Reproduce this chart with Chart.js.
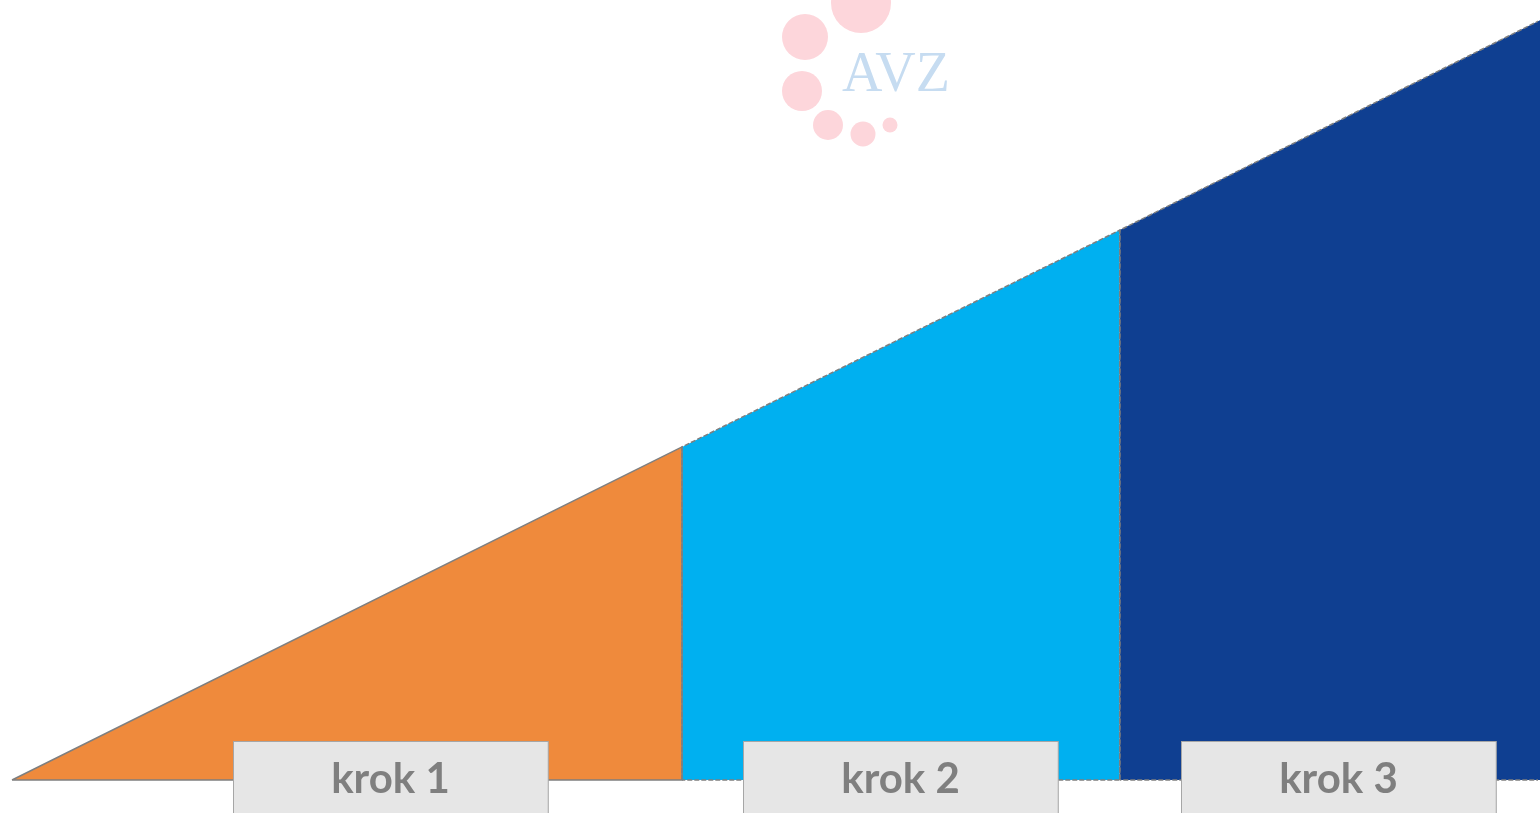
<!DOCTYPE html>
<html>
<head>
<meta charset="utf-8">
<script src="https://cdn.jsdelivr.net/npm/chart.js@4"></script>
<style>
  html, body { margin: 0; padding: 0; background: #fff; }
  #wrap { width: 1540px; height: 813px; position: relative; }
</style>
</head>
<body>
<div id="wrap"><canvas id="myChart"></canvas></div>
<script>
// step boundaries along the x axis (0..100) and the height of the slope there (0..100)
const stepEdges = [0, 43.85, 72.5, 100];
const stepHeights = [0, 42.7, 70.5, 97.4];
const stepLabels = ['krok 1', 'krok 2', 'krok 3'];
const labelCenters = [24.77, 58.15, 86.81];
const stepColors = ['#ef8a3c', '#00b0f0', '#0f3f91'];

function stepTop(i) {
    return [
        { x: stepEdges[i], y: stepHeights[i] },
        { x: stepEdges[i + 1], y: stepHeights[i + 1] }
    ];
}

function stepOutline(i) {
    return [
        { x: stepEdges[i], y: 0 },
        { x: stepEdges[i], y: stepHeights[i] },
        { x: stepEdges[i + 1], y: stepHeights[i + 1] },
        { x: stepEdges[i + 1], y: 0 },
        { x: stepEdges[i], y: 0 }
    ];
}

// filled areas first, outlines drawn on top of them
let fills = stepLabels.map((label, i) => ({
    label: label,
    data: stepTop(i),
    backgroundColor: stepColors[i],
    borderWidth: 0,
    fill: 'origin',
    tension: 0,
    pointRadius: 0,
    order: 10
}));

let outlines = stepLabels.map((label, i) => ({
    label: label + ' outline',
    data: stepOutline(i),
    borderColor: '#7f7f7f',
    borderWidth: 1.5,
    borderDash: i === 0 ? [] : [5, 2],
    fill: false,
    tension: 0,
    pointRadius: 0,
    clip: { left: 6, top: 6, right: -2, bottom: 6 },
    order: stepLabels.length - i
}));

// watermark logo in the top middle
const logoPlugin = {
    id: 'logo',
    beforeDraw(chart) {
        const c = chart.ctx;
        c.save();
        c.fillStyle = '#fdd6db';
        [[861, 3, 30], [805, 37, 23], [802, 91, 20], [828, 125, 15], [863, 134, 12.5], [890, 125, 7.5]]
            .forEach(p => { c.beginPath(); c.arc(p[0], p[1], p[2], 0, Math.PI * 2); c.fill(); });
        c.fillStyle = '#c6dcf1';
        c.font = '56px "Liberation Serif"';
        c.textBaseline = 'alphabetic';
        c.fillText('AVZ', 842, 91);
        c.restore();
    }
};

// grey step label boxes along the bottom
const stepBoxes = {
    id: 'stepBoxes',
    afterDatasetsDraw(chart) {
        const c = chart.ctx;
        const xs = chart.scales.x;
        const w = xs.getPixelForValue(20.6) - xs.getPixelForValue(0);
        c.save();
        stepLabels.forEach((label, i) => {
            const cx = xs.getPixelForValue(labelCenters[i]);
            const left = Math.round(cx - w / 2) + 0.5;
            c.fillStyle = '#e6e6e6';
            c.fillRect(left, 741.5, w, 80);
            c.strokeStyle = '#a6a6a6';
            c.lineWidth = 1;
            c.strokeRect(left, 741.5, w, 80);
            c.fillStyle = '#7f7f7f';
            c.font = 'bold 42px Lato';
            c.textAlign = 'center';
            c.textBaseline = 'middle';
            c.fillText(label, cx, 779);
        });
        c.restore();
    }
};

let ctx = document.getElementById('myChart');

var myChart = new Chart(ctx, {
    type: 'line',
    data: { datasets: fills.concat(outlines) },
    options: {
        responsive: true,
        maintainAspectRatio: false,
        animation: false,
        layout: { padding: { left: 12, right: 0, top: 0, bottom: 33 } },
        scales: {
            x: { type: 'linear', min: 0, max: 100, display: false },
            y: { type: 'linear', min: 0, max: 100, display: false }
        },
        plugins: {
            legend: { display: false },
            tooltip: { enabled: false }
        }
    },
    plugins: [logoPlugin, stepBoxes]
});
</script>
</body>
</html>
